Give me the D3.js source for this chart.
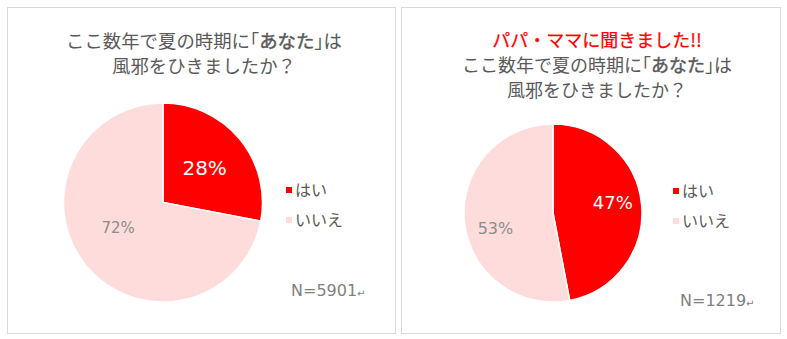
<!DOCTYPE html>
<html><head><meta charset="utf-8">
<script src="https://cdn.jsdelivr.net/npm/d3@7"></script>
<style>
html,body{margin:0;padding:0;background:#fff;}
</style></head>
<body>
<svg id="chart" width="787" height="339"></svg>
<script>
const categories = ["はい", "いいえ"];
const valuesYou = [28, 72];
const valuesParents = [47, 53];
const sampleSizes = ["N=5901", "N=1219"];
const titleYou = [["ここ数年で夏の時期に", "「", "あなた", "」", "は"], ["風邪をひきましたか？"]];
const titleParents = [["パパ・ママに聞きました!!"], ["ここ数年で夏の時期に", "「", "あなた", "」", "は"], ["風邪をひきましたか？"]];
const colors = ["#ff0000", "#ffdcdc"];

const JP = "'Noto Sans CJK JP', 'Noto Sans', sans-serif";
const NUM = "'DejaVu Sans', sans-serif";

const svg = d3.select("#chart");
const color = d3.scaleOrdinal().domain(categories).range(colors);

const panels = [
  {x:7, y:7, w:388, h:326, cx:163, cy:202.5, r:99.5, values:valuesYou, title:titleYou, redFirst:false,
   titleX:204, titleY:[41,66], titleSize:18.4, legX:286, legY:[190,220], nX:291, nY:290, n:sampleSizes[0],
   labelR:[0.543,0.52], labelShift:[[0,0],[-5,-8]], labelSize:[20,15]},
  {x:401, y:7, w:379, h:326, cx:553, cy:213, r:89, values:valuesParents, title:titleParents, redFirst:true,
   titleX:597, titleY:[41,66,91], titleSize:18, legX:673, legY:[191,221], nX:680, nY:300, n:sampleSizes[1],
   labelR:[0.675,0.65], labelShift:[[0,-5],[0,10]], labelSize:[18,16]}
];

panels.forEach(p => {
  const g = svg.append("g");
  g.append("rect").attr("x", p.x+0.5).attr("y", p.y+0.5).attr("width", p.w).attr("height", p.h)
    .attr("fill", "#fff").attr("stroke", "#d9d9d9").attr("stroke-width", 1);

  p.title.forEach((parts, i) => {
    const red = p.redFirst && i === 0;
    const t = g.append("text").attr("x", p.titleX).attr("y", p.titleY[i]).attr("dy", "0.36em")
      .attr("text-anchor", "middle").style("font-family", JP).style("font-size", p.titleSize + "px")
      .attr("fill", red ? "#ff0000" : "#595959")
      .attr("stroke", red ? "#ff0000" : "none").attr("stroke-width", red ? 0.25 : 0);
    parts.forEach((s, j) => {
      const sp = t.append("tspan").text(s);
      if (s === "「" || s === "」") sp.style("font-feature-settings", "'halt'");
      if (s === "あなた") sp.attr("stroke", "#595959").attr("stroke-width", 0.45);
    });
  });

  const data = categories.map((c, i) => ({cat:c, value:p.values[i]}));
  const pie = d3.pie().sort(null).value(d => d.value);
  const arcs = pie(data);
  const arc = d3.arc().innerRadius(0).outerRadius(p.r);
  const pg = g.append("g").attr("transform", `translate(${p.cx},${p.cy})`);
  pg.selectAll("path").data(arcs).join("path")
    .attr("d", arc).attr("fill", d => color(d.data.cat))
    .attr("stroke", "#fff").attr("stroke-width", 1.5);

  pg.selectAll("text.lbl").data(arcs).join("text").attr("class", "lbl")
    .attr("transform", (d, i) => {
      const a = d3.arc().innerRadius(0).outerRadius(p.r * p.labelR[i] * 2);
      const c = a.centroid(d);
      return `translate(${c[0] + p.labelShift[i][0]},${c[1] + p.labelShift[i][1]})`;
    })
    .attr("text-anchor", "middle").attr("dy", "0.36em")
    .style("font-family", NUM)
    .style("font-size", (d, i) => p.labelSize[i] + "px")
    .attr("fill", (d, i) => i === 0 ? "#ffffff" : "#8c8c8c")
    .text(d => d.data.value + "%");

  categories.forEach((c, i) => {
    g.append("rect").attr("x", p.legX).attr("y", p.legY[i] - 3).attr("width", 6).attr("height", 6)
      .attr("fill", color(c));
    g.append("text").attr("x", p.legX + 9).attr("y", p.legY[i]).attr("dy", "0.36em")
      .style("font-family", JP).style("font-size", "16px").attr("fill", "#595959").text(c);
  });

  const nt = g.append("text").attr("x", p.nX).attr("y", p.nY).attr("dy", "0.36em")
    .style("font-family", NUM).style("font-size", "16px").attr("fill", "#7f7f7f");
  nt.append("tspan").text(p.n);
  nt.append("tspan").style("font-size", "10px").attr("dy", "0.1em").text("↵");
});
</script>
</body></html>
